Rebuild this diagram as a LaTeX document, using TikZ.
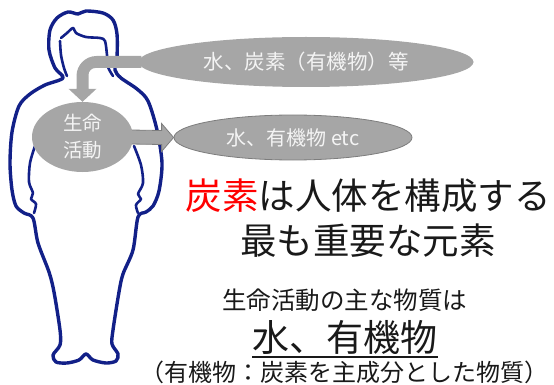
\documentclass[tikz,border=0pt]{standalone}
\usepackage{fontspec}
\setmainfont{Noto Sans CJK JP}
\usetikzlibrary{shapes.geometric,calc}

\definecolor{navy}{RGB}{18,32,136}
\definecolor{blobgray}{RGB}{166,166,166}
\definecolor{rimgray}{RGB}{125,125,125}
\definecolor{hotred}{RGB}{255,0,0}
\definecolor{inktext}{RGB}{25,25,25}
\definecolor{paletext}{RGB}{244,244,244}

\pgfdeclarelayer{figure}
\pgfdeclarelayer{arrowlayer}
\pgfsetlayers{figure,arrowlayer,main}

\tikzset{
  figline/.style={draw=navy, line width=3.4pt, line join=round, line cap=round},
  faceline/.style={figline, line width=2.6pt},
  blob/.style={ellipse, fill=blobgray, inner sep=0pt, text=paletext},
  blobrim/.style={blob, draw=rimgray, line width=0.8pt},
  flowarrow/.style={fill=blobgray},
  flowarrowrim/.style={fill=blobgray, draw=rimgray, line width=0.8pt, line join=miter},
  bodytext/.style={text=inktext, inner sep=0pt}
}

\begin{document}
\begin{tikzpicture}[x=1pt,y=-1pt]
\useasboundingbox (0,0) rectangle (554,385);

% ---- ellipses ----
\node[blob, minimum width=335, minimum height=50,
      font=\fontsize{20.5}{24}\selectfont] (src) at (306,62) {水、炭素（有機物）等};
\node[blobrim, minimum width=238, minimum height=45,
      font=\fontsize{20}{24}\selectfont] (out) at (293,137.5) {水、有機物 etc};
\node[blob, minimum width=101, minimum height=70, align=center,
      font=\fontsize{19.5}{27}\selectfont] (life) at (82.5,137) {生命\\活動};

% ---- human silhouette ----
\begin{pgfonlayer}{figure}
  \draw[figline] plot[smooth cycle, tension=0.5] coordinates {
    (86,354) (79,360) (67,363) (56,362) (53,355) (60,345) (60,330) (54,292)
    (49,272) (38,243) (33,218) (24,213) (16,206) (12,190) (10,163) (12,132)
    (19,106) (30,94) (45,85) (63,78) (55,68) (49,50) (50,30) (57,18) (68,12)
    (78,14) (86,11) (103,13) (113,20) (117,34) (117,57) (115,70) (121,78)
    (137,89) (148,101) (157,130) (162,163) (159,191) (153,206) (146,212)
    (138,217) (133,250) (123,274) (119,292) (113,330) (112,344) (118,354)
    (116,361) (106,363) (93,360)};
  % face and fringe
  \draw[faceline] plot[smooth, tension=0.5] coordinates {(60,41) (61,55) (64,68) (67,76)};
  \draw[faceline] plot[smooth, tension=0.5] coordinates {
    (61,38) (67,33) (73,28) (76,33) (86,37) (100,38) (105,41) (107,55) (108,67) (113,76)};
  % inner arm lines
  \draw[faceline] plot[smooth, tension=0.5] coordinates {
    (35,146) (30,163) (29,182) (33,193) (31,199) (36,204) (34,213)};
  \draw[faceline] plot[smooth, tension=0.5] coordinates {
    (134,146) (141,165) (143,183) (138,194) (141,199) (136,205) (138,213)};
\end{pgfonlayer}

% ---- arrows ----
\begin{pgfonlayer}{arrowlayer}
  \coordinate (bend) at (life.north |- src.west);
  \fill[flowarrow]
    ($(src.west)+(3,-6)$) -- ($(bend)+(14,-6)$)
    .. controls ($(bend)+(3,-6)$) and ($(bend)+(-6,3)$) .. ($(bend)+(-6,14)$)
    -- ($(life.north)+(-6,-13)$) -- ($(life.north)+(-14,-13)$) -- (life.north)
    -- ($(life.north)+(14,-13)$) -- ($(life.north)+(6,-13)$)
    -- ($(bend)+(6,13)$)
    .. controls ($(bend)+(6,9)$) and ($(bend)+(9,6)$) .. ($(bend)+(13,6)$)
    -- ($(src.west)+(3,6)$) -- cycle;
  \filldraw[flowarrowrim]
    ($(life.east)+(-3,-7)$) -- ($(out.west)+(-12,-7)$) -- ($(out.west)+(-12,-14)$)
    -- (out.west) -- ($(out.west)+(-12,14)$) -- ($(out.west)+(-12,7)$)
    -- ($(life.east)+(-3,7)$) -- cycle;
\end{pgfonlayer}

% ---- statements ----
\node[bodytext, align=center, font=\fontsize{36.5}{45}\selectfont] (claim) at (368,218.5)
  {\textcolor{hotred}{炭素}は人体を構成する\\最も重要な元素};
\node[bodytext, font=\fontsize{24.5}{29}\selectfont] (lead) at (344.5,300) {生命活動の主な物質は};
\node[bodytext, font=\fontsize{37}{44}\selectfont] (key) at (345,337) {水、有機物};
\draw[inktext, line width=2pt] ($(key.south west)+(0,2.5)$) -- ($(key.south east)+(0,2.5)$);
\node[bodytext, font=\fontsize{24}{29}\selectfont] (note) at (344,372) {（有機物：炭素を主成分とした物質）};
\end{tikzpicture}
\end{document}
